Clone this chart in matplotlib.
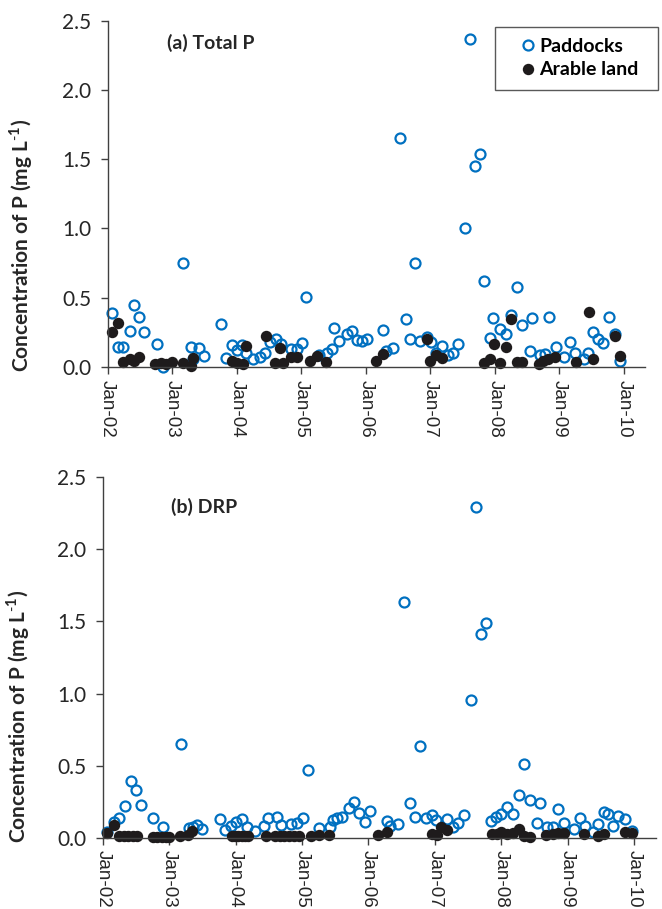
import numpy as np
import matplotlib
matplotlib.use('Agg')
import matplotlib.pyplot as plt
from matplotlib.ticker import FormatStrFormatter
from matplotlib.patches import Rectangle
from matplotlib.lines import Line2D

plt.rcParams['font.family'] = ['Lato', 'DejaVu Sans']
plt.rcParams['mathtext.fontset'] = 'custom'
plt.rcParams['mathtext.rm'] = 'Lato'
plt.rcParams['mathtext.bf'] = 'Lato:bold'

# sampling dates in decimal years, concentrations in mg/L
tp_pad_t = [2002.06, 2002.16, 2002.23, 2002.34, 2002.40, 2002.49, 2002.56, 2002.76,
            2002.86, 2003.16, 2003.29, 2003.33, 2003.41, 2003.49, 2003.76, 2003.83,
            2003.92, 2004.00, 2004.08, 2004.15, 2004.26, 2004.36, 2004.44, 2004.52,
            2004.61, 2004.69, 2004.84, 2004.94, 2005.01, 2005.07, 2005.27, 2005.40,
            2005.47, 2005.51, 2005.58, 2005.71, 2005.78, 2005.86, 2005.95, 2006.02,
            2006.27, 2006.31, 2006.43, 2006.53, 2006.62, 2006.69, 2006.77, 2006.84,
            2006.95, 2007.02, 2007.09, 2007.18, 2007.27, 2007.35, 2007.43, 2007.54,
            2007.62, 2007.69, 2007.77, 2007.84, 2007.93, 2007.98, 2008.08, 2008.18,
            2008.25, 2008.35, 2008.43, 2008.55, 2008.58, 2008.70, 2008.78, 2008.84,
            2008.95, 2009.08, 2009.17, 2009.25, 2009.38, 2009.45, 2009.53, 2009.60,
            2009.68, 2009.77, 2009.86, 2009.94]
tp_pad_c = [0.388, 0.147, 0.147, 0.262, 0.445, 0.359, 0.253, 0.164,
            0.000, 0.753, 0.142, 0.060, 0.135, 0.082, 0.308, 0.067,
            0.156, 0.123, 0.159, 0.103, 0.056, 0.070, 0.103, 0.183,
            0.200, 0.166, 0.128, 0.128, 0.171, 0.505, 0.087, 0.099,
            0.130, 0.284, 0.188, 0.240, 0.260, 0.197, 0.190, 0.204,
            0.265, 0.115, 0.139, 1.651, 0.350, 0.200, 0.748, 0.188,
            0.219, 0.183, 0.103, 0.152, 0.087, 0.099, 0.166, 1.006,
            2.368, 1.451, 1.538, 0.621, 0.212, 0.356, 0.272, 0.238,
            0.378, 0.577, 0.305, 0.115, 0.351, 0.087, 0.094, 0.363,
            0.147, 0.070, 0.183, 0.099, 0.055, 0.103, 0.253, 0.202,
            0.171, 0.363, 0.236, 0.043]

tp_ara_t = [2002.06, 2002.16, 2002.23, 2002.34, 2002.41, 2002.49, 2002.74, 2002.83,
            2002.91, 2002.99, 2003.16, 2003.29, 2003.33, 2003.92, 2004.00, 2004.09,
            2004.15, 2004.45, 2004.59, 2004.67, 2004.72, 2004.84, 2004.94, 2005.14,
            2005.25, 2005.38, 2006.16, 2006.27, 2006.95, 2007.00, 2007.09, 2007.18,
            2007.84, 2007.93, 2007.99, 2008.08, 2008.17, 2008.25, 2008.34, 2008.43,
            2008.69, 2008.75, 2008.82, 2008.93, 2009.26, 2009.46, 2009.53, 2009.86,
            2009.94]
tp_ara_c = [0.250, 0.315, 0.038, 0.058, 0.046, 0.075, 0.022, 0.026,
            0.022, 0.034, 0.026, 0.010, 0.062, 0.046, 0.026, 0.019,
            0.152, 0.221, 0.026, 0.140, 0.026, 0.070, 0.070, 0.046,
            0.082, 0.036, 0.043, 0.092, 0.204, 0.043, 0.087, 0.062,
            0.031, 0.060, 0.166, 0.026, 0.147, 0.347, 0.038, 0.038,
            0.019, 0.041, 0.055, 0.075, 0.038, 0.395, 0.055, 0.221,
            0.079]

drp_pad_t = [2002.07, 2002.17, 2002.25, 2002.34, 2002.42, 2002.50, 2002.57, 2002.76,
             2002.90, 2003.17, 2003.30, 2003.36, 2003.42, 2003.50, 2003.77, 2003.84,
             2003.93, 2004.00, 2004.09, 2004.17, 2004.29, 2004.42, 2004.49, 2004.62,
             2004.68, 2004.84, 2004.93, 2005.02, 2005.09, 2005.26, 2005.42, 2005.47,
             2005.52, 2005.60, 2005.70, 2005.78, 2005.86, 2005.95, 2006.02, 2006.28,
             2006.33, 2006.45, 2006.54, 2006.63, 2006.70, 2006.78, 2006.87, 2006.95,
             2007.02, 2007.19, 2007.27, 2007.35, 2007.44, 2007.54, 2007.62, 2007.70,
             2007.77, 2007.85, 2007.92, 2007.99, 2008.08, 2008.18, 2008.26, 2008.34,
             2008.43, 2008.54, 2008.58, 2008.69, 2008.78, 2008.86, 2008.95, 2009.09,
             2009.18, 2009.26, 2009.38, 2009.46, 2009.54, 2009.61, 2009.69, 2009.76,
             2009.86, 2009.97]
drp_pad_c = [0.042, 0.111, 0.134, 0.222, 0.393, 0.331, 0.225, 0.139,
             0.074, 0.650, 0.065, 0.076, 0.086, 0.058, 0.128, 0.053,
             0.081, 0.111, 0.130, 0.076, 0.049, 0.081, 0.134, 0.146,
             0.088, 0.095, 0.104, 0.134, 0.470, 0.065, 0.076, 0.123,
             0.139, 0.146, 0.208, 0.250, 0.169, 0.111, 0.185, 0.116,
             0.081, 0.095, 1.637, 0.238, 0.146, 0.636, 0.139, 0.157,
             0.123, 0.128, 0.072, 0.100, 0.157, 0.955, 2.296, 1.410,
             1.487, 0.116, 0.146, 0.162, 0.211, 0.164, 0.296, 0.509,
             0.261, 0.100, 0.243, 0.072, 0.072, 0.197, 0.104, 0.058,
             0.134, 0.081, 0.042, 0.095, 0.176, 0.162, 0.081, 0.150,
             0.128, 0.046]

drp_ara_t = [2002.07, 2002.17, 2002.25, 2002.32, 2002.38, 2002.45, 2002.51, 2002.76,
             2002.82, 2002.89, 2002.95, 2003.00, 2003.16, 2003.29, 2003.34, 2003.94,
             2003.99, 2004.04, 2004.09, 2004.14, 2004.19, 2004.45, 2004.59, 2004.67,
             2004.73, 2004.81, 2004.88, 2004.95, 2005.13, 2005.25, 2005.40, 2006.15,
             2006.28, 2006.95, 2007.03, 2007.09, 2007.19, 2007.86, 2007.93, 2008.00,
             2008.08, 2008.17, 2008.26, 2008.34, 2008.43, 2008.68, 2008.78, 2008.86,
             2008.95, 2009.25, 2009.46, 2009.54, 2009.86, 2009.97]
drp_ara_c = [0.031, 0.088, 0.014, 0.014, 0.014, 0.014, 0.014, 0.007,
             0.007, 0.007, 0.007, 0.007, 0.010, 0.019, 0.046, 0.012,
             0.012, 0.012, 0.012, 0.012, 0.012, 0.012, 0.012, 0.012,
             0.012, 0.012, 0.012, 0.010, 0.012, 0.020, 0.020, 0.020,
             0.037, 0.025, 0.020, 0.072, 0.053, 0.025, 0.023, 0.037,
             0.023, 0.030, 0.058, 0.012, 0.007, 0.020, 0.025, 0.030,
             0.035, 0.025, 0.014, 0.025, 0.040, 0.035]

year_ticks = [2002, 2003, 2004, 2005, 2006, 2007, 2008, 2009, 2010]
year_labels = ['Jan-02', 'Jan-03', 'Jan-04', 'Jan-05', 'Jan-06',
               'Jan-07', 'Jan-08', 'Jan-09', 'Jan-10']
y_ticks = [0.0, 0.5, 1.0, 1.5, 2.0, 2.5]

BLUE = '#0070C0'
BLACK = '#1e1b1c'
AXC = '#404040'
W, H = 662, 909

fig = plt.figure(figsize=(W / 100, H / 100), dpi=100)
# axes boxes in pixels: left, top, right, bottom
boxes = [(107.7, 20.7, 645, 367.0), (102.8, 477.3, 656, 837.7)]
# title position (axes fraction), y-label x centre and y start (pixels)
panels = [('(a) Total P', tp_pad_t, tp_pad_c, tp_ara_t, tp_ara_c, (0.111, 0.935), 21, 372),
          ('(b) DRP', drp_pad_t, drp_pad_c, drp_ara_t, drp_ara_c, (0.123, 0.918), 18, 843)]
ylab = r'Concentration of P (mg L$^{\mathbf{\text{-}1}}$)'

for (l, t, r, b), (title, pt, pc, at, ac, tpos, ylx, yly) in zip(boxes, panels):
    ax = fig.add_axes([l / W, 1 - b / H, (r - l) / W, (b - t) / H])
    ax.plot(pt, pc, 'o', ms=7.2, mfc='none', mec=BLUE, mew=1.6, clip_on=False)
    ax.plot(at, ac, 'o', ms=8.2, mfc=BLACK, mec=BLACK, mew=0, clip_on=False)
    ax.set_xlim(2002, 2010.33)
    ax.set_ylim(0, 2.5)
    ax.set_xticks(year_ticks)
    ax.set_xticklabels(year_labels, rotation=270, family='Liberation Sans',
                       fontsize=13.5, color='#262626')
    ax.set_yticks(y_ticks)
    ax.yaxis.set_major_formatter(FormatStrFormatter('%.1f'))
    for lab in ax.get_yticklabels():
        lab.set_fontsize(15)
        lab.set_color('#262626')
    for s in ['top', 'right']:
        ax.spines[s].set_visible(False)
    for s in ['left', 'bottom']:
        ax.spines[s].set_color(AXC)
        ax.spines[s].set_linewidth(1.0)
    ax.tick_params(direction='out', length=5, width=1.0, color=AXC)
    ax.tick_params(axis='x', pad=4)
    ax.tick_params(axis='y', pad=7)
    ax.text(tpos[0], tpos[1], title, transform=ax.transAxes, ha='left',
            va='center', fontsize=14, fontweight='bold', color='#262626')
    fig.text(ylx / W, 1 - yly / H, ylab, rotation=90, rotation_mode='anchor',
             ha='left', va='center', fontsize=15, fontweight='bold',
             color='#262626')

# legend box and entries (top panel)
fig.patches.append(Rectangle((495 / W, 1 - 90 / H), 163 / W, 63 / H,
                             transform=fig.transFigure, fill=False,
                             edgecolor='#595959', linewidth=1.0))
handles = [Line2D([], [], ls='none', marker='o', ms=7.2, mfc='none', mec=BLUE, mew=1.6),
           Line2D([], [], ls='none', marker='o', ms=8.2, mfc=BLACK, mec=BLACK, mew=0)]
fig.legend(handles, ['Paddocks', 'Arable land'], loc='center left',
           bbox_to_anchor=(522 / W, 1 - 58 / H), frameon=False, borderpad=0,
           borderaxespad=0, handlelength=0.6, handletextpad=0.3,
           labelspacing=0.35, prop={'weight': 'bold', 'size': 14})

fig.savefig('out.png', dpi=100)
